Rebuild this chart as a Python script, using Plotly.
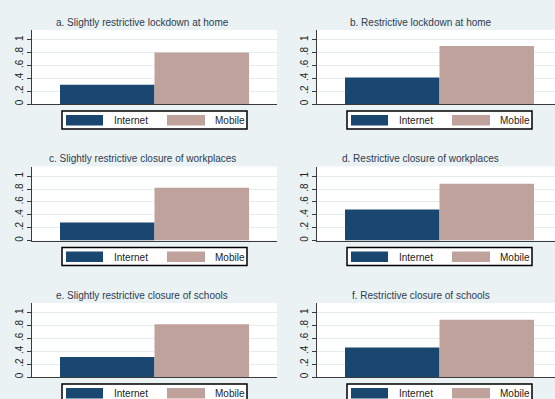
import plotly.graph_objects as go

# Shares by policy scenario and channel
panel_titles = [
    "a. Slightly restrictive lockdown at home",
    "b. Restrictive lockdown at home",
    "c. Slightly restrictive closure of workplaces",
    "d. Restrictive closure of workplaces",
    "e. Slightly restrictive closure of schools",
    "f. Restrictive closure of schools",
]
series_names = ["Internet", "Mobile"]
internet_vals = [0.30, 0.41, 0.28, 0.48, 0.31, 0.46]
mobile_vals = [0.80, 0.90, 0.82, 0.88, 0.82, 0.89]
tick_vals = [0, 0.2, 0.4, 0.6, 0.8, 1.0]
tick_text = ["0", ".2", ".4", ".6", ".8", "1"]

W, H = 555, 399
BG = "#EAF2F3"
GRID = "#E3ECEE"
AXIS = "#3A3A3A"
colors = ["#1A476F", "#BFA29B"]

# pixel layout of the 2x3 grid
col_left = [32, 317]
plot_w = 245
row_top = [30, 166.5, 303]
plot_h = 74
title_cx = [142, 420.5]


def px(x):
    return x / W


def py(y):
    return 1 - y / H


fig = go.Figure()
shapes = []
annotations = []
layout_axes = {}

for i, title in enumerate(panel_titles):
    r, c = divmod(i, 2)
    n = i + 1
    xa = "x" if n == 1 else f"x{n}"
    ya = "y" if n == 1 else f"y{n}"
    vals = [internet_vals[i], mobile_vals[i]]
    for name, v, col in zip(series_names, vals, colors):
        fig.add_trace(go.Bar(
            x=[0], y=[v], name=name, marker=dict(color=col, line=dict(width=0)),
            xaxis=xa, yaxis=ya, showlegend=False,
        ))

    left = col_left[c]
    right = min(left + plot_w, W)
    top = row_top[r]
    bottom = top + plot_h
    x_hi = -0.5 + (right - left) / plot_w

    layout_axes["xaxis" if n == 1 else f"xaxis{n}"] = dict(
        domain=[px(left), px(right)], range=[-0.5, x_hi], anchor=ya,
        showticklabels=False, ticks="", showgrid=False, zeroline=False,
        showline=True, linecolor=AXIS, linewidth=1, fixedrange=True,
    )
    layout_axes["yaxis" if n == 1 else f"yaxis{n}"] = dict(
        domain=[py(bottom), py(top)], range=[0, 1.15], anchor=xa,
        tickvals=tick_vals, ticktext=tick_text, tickangle=-90,
        ticks="outside", ticklen=4, tickcolor=AXIS, tickwidth=1,
        showline=True, linecolor=AXIS, linewidth=1,
        showgrid=True, gridcolor=GRID, gridwidth=1, zeroline=False,
        tickfont=dict(size=10, color="#222222", family="Liberation Sans, Arial"),
        fixedrange=True,
    )

    # panel title
    annotations.append(dict(
        x=px(title_cx[c]), y=py(top - 8), xref="paper", yref="paper",
        text=title, showarrow=False, xanchor="center", yanchor="middle",
        font=dict(size=10, color="#2E3B52", family="Liberation Sans, Arial"),
    ))

    # legend box under each panel
    off = left - 32
    lb_top = bottom + 7
    shapes.append(dict(
        type="rect", xref="paper", yref="paper",
        x0=px(62 + off), x1=px(247 + off), y0=py(lb_top + 18), y1=py(lb_top),
        line=dict(color="#000000", width=1.5), fillcolor="white", layer="above",
    ))
    key_x = [(66, 103, 112), (167, 205, 213)]
    for (k0, k1, tx), name, col in zip(key_x, series_names, colors):
        shapes.append(dict(
            type="rect", xref="paper", yref="paper",
            x0=px(k0 + off), x1=px(k1 + off), y0=py(lb_top + 14.5), y1=py(lb_top + 4),
            line=dict(width=0), fillcolor=col, layer="above",
        ))
        annotations.append(dict(
            x=px(tx + off), y=py(lb_top + 9.5), xref="paper", yref="paper",
            text=name, showarrow=False, xanchor="left", yanchor="middle",
            font=dict(size=10, color="#222222", family="Liberation Sans, Arial"),
        ))

fig.update_layout(
    width=W, height=H, margin=dict(l=0, r=0, t=0, b=0),
    paper_bgcolor=BG, plot_bgcolor="white",
    barmode="group", bargap=0.2286, bargroupgap=0,
    shapes=shapes, annotations=annotations, showlegend=False,
    font=dict(family="Liberation Sans, Arial", size=10),
    **layout_axes,
)

fig.write_html("out.html")
